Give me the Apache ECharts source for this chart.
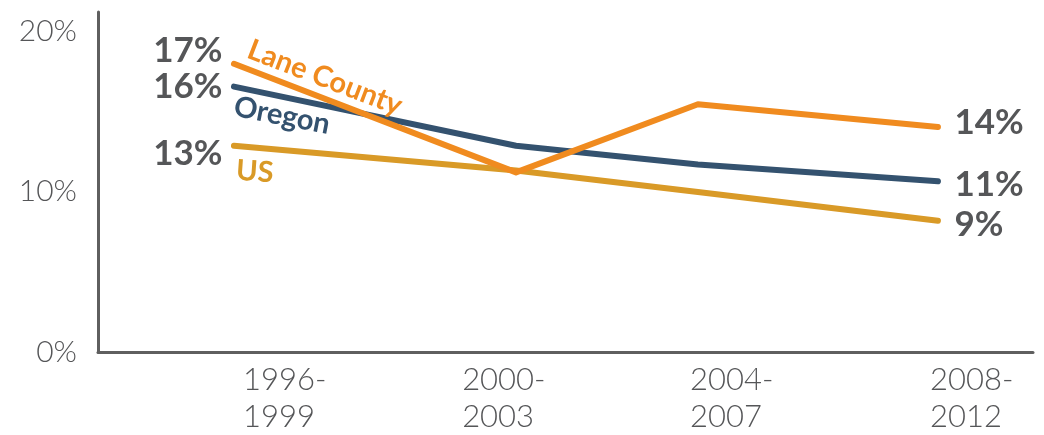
<!DOCTYPE html>
<html lang="en">
<head>
    <meta charset="UTF-8">
    <title>Lane County, Oregon, US</title>
    <script src="https://cdn.jsdelivr.net/npm/echarts@6.0.0/dist/echarts.min.js"></script>
    <style>
        html, body { margin: 0; padding: 0; background: #fff; }
        #chart { width: 1044px; height: 435px; }
    </style>
</head>
<body>
<div id="chart"></div>
<script>
    // periods and where they sit on the x scale (1 unit = distance between first two points)
    var categories = ['1996-\n1999', '2000-\n2003', '2004-\n2007', '2008-\n2012'];
    var pointX = [0, 1, 1.645, 2.496];
    var labelX = [0.032, 0.809, 1.617, 2.468];
    var yTicks = [0, 10, 20];

    // values in percent
    var lane = [17.97, 11.2, 15.45, 14.03];
    var oregon = [16.55, 12.86, 11.69, 10.65];
    var us = [12.86, 11.32, 9.97, 8.18];

    // printed start / end values
    var laneText = ['17%', '14%'];
    var oregonText = ['16%', '11%'];
    var usText = ['13%', '9%'];

    var gray = '#555658';
    var font = 'Lato, "Open Sans", sans-serif';

    var chart = echarts.init(document.getElementById('chart'));

    function makeSeries(name, values, texts, color, startDy, endDy) {
        var data = values.map(function (v, i) {
            var item = {value: [pointX[i], v]};
            if (i === 0 || i === values.length - 1) {
                var first = i === 0;
                item.label = {
                    show: true,
                    position: first ? 'left' : 'right',
                    distance: first ? 11 : 16,
                    offset: [0, first ? startDy : endDy],
                    formatter: first ? texts[0] : texts[1],
                    color: gray,
                    opacity: 1,
                    fontFamily: font,
                    fontWeight: 'bold',
                    fontSize: 35
                };
            }
            return item;
        });
        return {
            name: name,
            type: 'line',
            data: data,
            symbol: 'circle',
            symbolSize: 1,
            showSymbol: true,
            showAllSymbol: true,
            silent: true,
            lineStyle: {color: color, width: 6, cap: 'round', join: 'round'},
            itemStyle: {color: color},
            z: name === 'Lane County' ? 3 : 2
        };
    }

    var seriesInfo = [
        {name: 'Lane County', values: lane, texts: laneText, color: '#f08b1f', startDy: -13, endDy: -4, dx: 91, dy: 14, rot: -21},
        {name: 'Oregon', values: oregon, texts: oregonText, color: '#34526f', startDy: 0, endDy: 4, dx: 48, dy: 29, rot: -11},
        {name: 'US', values: us, texts: usText, color: '#d99a27', startDy: 8, endDy: 4, dx: 21, dy: 26, rot: -4}
    ];

    chart.setOption({
        animation: false,
        grid: {left: 98, right: 11, top: 12, bottom: 78, containLabel: false},
        xAxis: {
            type: 'value',
            min: -0.482,
            max: 2.833,
            axisLine: {show: true, onZero: false, lineStyle: {color: '#5f5f5f', width: 3}},
            axisTick: {show: false},
            splitLine: {show: false},
            axisLabel: {
                customValues: labelX,
                align: 'left',
                margin: 9,
                color: gray,
                fontFamily: font,
                fontWeight: 300,
                fontSize: 31,
                lineHeight: 37,
                formatter: function (v) {
                    var best = 0;
                    labelX.forEach(function (p, i) {
                        if (Math.abs(p - v) < Math.abs(labelX[best] - v)) best = i;
                    });
                    return categories[best];
                }
            }
        },
        yAxis: {
            type: 'value',
            min: 0,
            max: 21.2,
            axisLine: {show: true, onZero: false, lineStyle: {color: '#5f5f5f', width: 3}},
            axisTick: {show: false},
            splitLine: {show: false},
            axisLabel: {
                customValues: yTicks,
                margin: 21,
                color: gray,
                fontFamily: font,
                fontWeight: 300,
                fontSize: 30,
                formatter: '{value}%'
            }
        },
        series: seriesInfo.map(function (s) {
            return makeSeries(s.name, s.values, s.texts, s.color, s.startDy, s.endDy);
        })
    });

    // series names written along the start of each line
    var names = seriesInfo.map(function (s) {
        var p = chart.convertToPixel({gridIndex: 0}, [pointX[0], s.values[0]]);
        return {
            type: 'text',
            x: p[0] + s.dx,
            y: p[1] + s.dy,
            rotation: s.rot * Math.PI / 180,
            z: 10,
            style: {
                text: s.name,
                fill: s.color,
                font: 'bold 29px ' + font,
                align: 'center',
                verticalAlign: 'middle'
            }
        };
    });
    chart.setOption({graphic: names});
</script>
</body>
</html>
